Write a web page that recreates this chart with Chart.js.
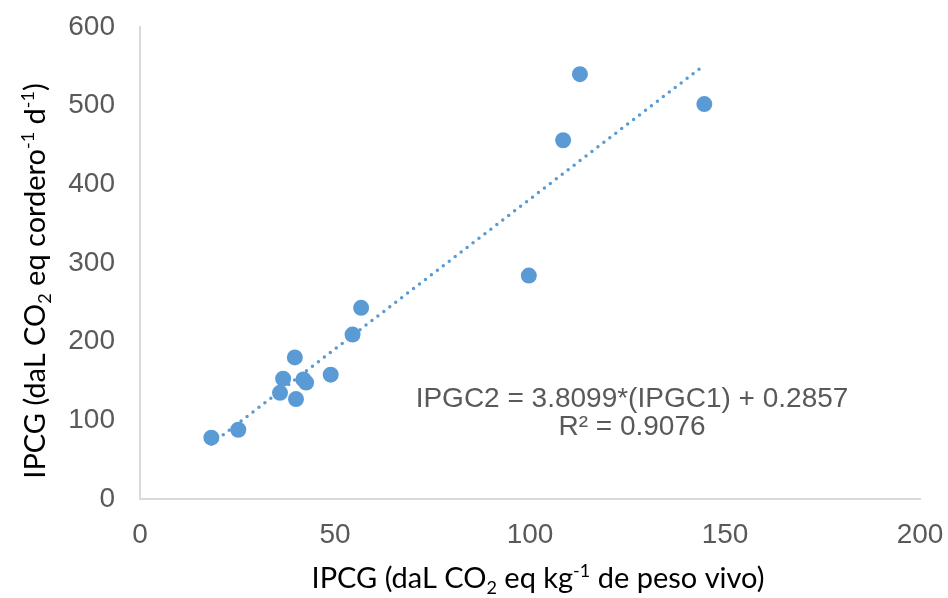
<!DOCTYPE html>
<html>
<head>
<meta charset="utf-8">
<script src="https://cdn.jsdelivr.net/npm/chart.js@4.4.1/dist/chart.umd.min.js"></script>
<style>
  body { margin: 0; background: #fff; }
  #wrap { width: 948px; height: 598px; }
</style>
</head>
<body>
<div id="wrap"><canvas id="grafico" width="948" height="598"></canvas></div>
<script>
// Datos
const ipcgPesoVivo = [18.3, 25.2, 35.9, 36.7, 39.7, 40.0, 41.9, 42.6, 48.9, 54.5, 56.7, 99.7, 108.5, 112.8, 144.7];
const ipcgCordero = [78, 88, 135, 153, 180, 127, 152, 148, 158, 209, 243, 284, 456, 540, 502];
const pendiente = 3.8099;
const intercepto = 0.2857;
const textoEcuacion = ['IPGC2 = 3.8099*(IPGC1) + 0.2857', 'R² = 0.9076'];

const tituloX = [
    { t: 'IPCG (daL CO' }, { t: '2', m: 'sub' }, { t: ' eq kg' }, { t: '-1', m: 'sup' }, { t: ' de peso vivo)' }
];
const tituloY = [
    { t: 'IPCG (daL CO' }, { t: '2', m: 'sub' }, { t: ' eq cordero' }, { t: '-1', m: 'sup' }, { t: ' d' }, { t: '-1', m: 'sup' }, { t: ')' }
];

const puntos = ipcgPesoVivo.map((x, i) => ({ x: x, y: ipcgCordero[i] }));
const xMin = Math.min(...ipcgPesoVivo);
const xMax = Math.max(...ipcgPesoVivo);
const tendencia = [
    { x: xMin, y: pendiente * xMin + intercepto },
    { x: xMax, y: pendiente * xMax + intercepto }
];

// Texto con subíndices y superíndices
function dibujarTextoRico(ctx, partes, size, familia) {
    const fontN = size + 'px ' + familia;
    const fontS = Math.round(size * 0.62) + 'px ' + familia;
    let ancho = 0;
    partes.forEach(p => {
        ctx.font = p.m ? fontS : fontN;
        ancho += ctx.measureText(p.t).width;
    });
    let x = -ancho / 2;
    ctx.textAlign = 'left';
    ctx.textBaseline = 'alphabetic';
    partes.forEach(p => {
        ctx.font = p.m ? fontS : fontN;
        let dy = 0;
        if (p.m === 'sub') dy = size * 0.2;
        if (p.m === 'sup') dy = -size * 0.38;
        ctx.fillText(p.t, x, dy);
        x += ctx.measureText(p.t).width;
    });
}

const pluginTextos = {
    id: 'textos',
    afterDraw(chart) {
        const ctx = chart.ctx;
        ctx.save();
        ctx.fillStyle = '#000';
        ctx.translate(538, 588);
        dibujarTextoRico(ctx, tituloX, 29, 'Lato');
        ctx.restore();

        ctx.save();
        ctx.fillStyle = '#000';
        ctx.translate(45, 281);
        ctx.rotate(-Math.PI / 2);
        dibujarTextoRico(ctx, tituloY, 29, 'Lato');
        ctx.restore();

        ctx.save();
        ctx.fillStyle = '#595959';
        ctx.font = '28px "Liberation Sans", Arial';
        ctx.textAlign = 'center';
        ctx.textBaseline = 'alphabetic';
        ctx.fillText(textoEcuacion[0], 632, 407);
        ctx.fillText(textoEcuacion[1], 632, 435);
        ctx.restore();
    }
};

const fuenteTicks = { family: '"Liberation Sans", Arial', size: 28 };

// sin relleno extra por las etiquetas, el área queda fija
function sinRelleno(scale) {
    scale.paddingTop = 0;
    scale.paddingBottom = 0;
    scale.paddingLeft = 0;
    scale.paddingRight = 0;
}

new Chart(document.getElementById('grafico'), {
    type: 'scatter',
    data: {
        datasets: [
            {
                label: 'IPCG',
                data: puntos,
                backgroundColor: '#5B9BD5',
                borderColor: '#5B9BD5',
                pointRadius: 8,
                pointHoverRadius: 8,
                borderWidth: 0,
                order: 1
            },
            {
                label: 'Tendencia',
                type: 'line',
                data: tendencia,
                borderColor: '#5B9BD5',
                borderWidth: 3.5,
                borderDash: [0, 7.5],
                borderCapStyle: 'round',
                pointRadius: 0,
                fill: false,
                order: 2
            }
        ]
    },
    options: {
        responsive: false,
        animation: false,
        devicePixelRatio: 1,
        layout: { padding: { top: 27, right: 28, left: 0, bottom: 0 } },
        plugins: {
            legend: { display: false },
            tooltip: { enabled: false }
        },
        scales: {
            x: {
                type: 'linear',
                min: 0,
                max: 200,
                grid: { display: false, drawTicks: false },
                border: { display: true, color: '#d9d9d9', width: 2 },
                ticks: { stepSize: 50, color: '#595959', font: fuenteTicks, padding: 19 },
                afterFit(scale) { scale.height = 99; sinRelleno(scale); }
            },
            y: {
                min: 0,
                max: 600,
                grid: { display: false, drawTicks: false },
                border: { display: true, color: '#d9d9d9', width: 2 },
                ticks: { stepSize: 100, color: '#595959', font: fuenteTicks, padding: 25 },
                afterFit(scale) { scale.width = 140; sinRelleno(scale); }
            }
        }
    },
    plugins: [pluginTextos]
});
</script>
</body>
</html>
